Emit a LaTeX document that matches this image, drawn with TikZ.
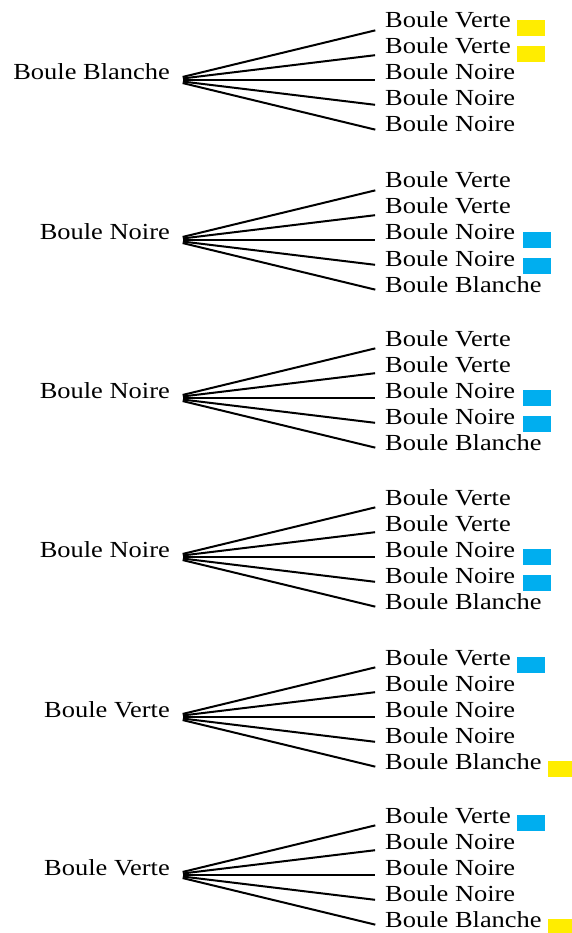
\documentclass[tikz,border=0pt]{standalone}
\usepackage{fontspec}
\setmainfont{Liberation Serif}[FakeStretch=1.15]
\definecolor{markyellow}{RGB}{255,237,0}
\definecolor{markcyan}{RGB}{0,174,239}
\tikzset{
  lbl/.style={inner sep=0pt, font=\fontsize{23}{26}\selectfont},
  rootlbl/.style={lbl, anchor=base east},
  leaflbl/.style={lbl, anchor=base west},
  branch/.style={line width=2pt, shorten <=13pt, shorten >=10pt},
  markbox/.style={minimum width=28pt, minimum height=16pt, inner sep=0pt, anchor=west},
  ymark/.style={markbox, fill=markyellow},
  cmark/.style={markbox, fill=markcyan},
}
\begin{document}
\begin{tikzpicture}[x=1pt,y=-1pt]
\useasboundingbox (0,0) rectangle (572,933);
% ---- group 1
\node[rootlbl] (r1) at (170,80) {Boule Blanche};
\node[leaflbl] (l11) at (385,28) {Boule Verte};
\node[leaflbl] (l12) at (385,54) {Boule Verte};
\node[leaflbl] (l13) at (385,80) {Boule Noire};
\node[leaflbl] (l14) at (385,106) {Boule Noire};
\node[leaflbl] (l15) at (385,132) {Boule Noire};
\node[ymark] (m11) at ([xshift=6pt]l11.base east) {};
\node[ymark] (m12) at ([xshift=6pt]l12.base east) {};
% ---- group 2
\node[rootlbl] (r2) at (170,240) {Boule Noire};
\node[leaflbl] (l21) at (385,188) {Boule Verte};
\node[leaflbl] (l22) at (385,214) {Boule Verte};
\node[leaflbl] (l23) at (385,240) {Boule Noire};
\node[leaflbl] (l24) at (385,266) {Boule Noire};
\node[leaflbl] (l25) at (385,292) {Boule Blanche};
\node[cmark] (m23) at ([xshift=7pt]l23.base east) {};
\node[cmark] (m24) at ([xshift=7pt]l24.base east) {};
% ---- group 3
\node[rootlbl] (r3) at (170,398) {Boule Noire};
\node[leaflbl] (l31) at (385,346) {Boule Verte};
\node[leaflbl] (l32) at (385,372) {Boule Verte};
\node[leaflbl] (l33) at (385,398) {Boule Noire};
\node[leaflbl] (l34) at (385,424) {Boule Noire};
\node[leaflbl] (l35) at (385,450) {Boule Blanche};
\node[cmark] (m33) at ([xshift=7pt]l33.base east) {};
\node[cmark] (m34) at ([xshift=7pt]l34.base east) {};
% ---- group 4
\node[rootlbl] (r4) at (170,557) {Boule Noire};
\node[leaflbl] (l41) at (385,505) {Boule Verte};
\node[leaflbl] (l42) at (385,531) {Boule Verte};
\node[leaflbl] (l43) at (385,557) {Boule Noire};
\node[leaflbl] (l44) at (385,583) {Boule Noire};
\node[leaflbl] (l45) at (385,609) {Boule Blanche};
\node[cmark] (m43) at ([xshift=7pt]l43.base east) {};
\node[cmark] (m44) at ([xshift=7pt]l44.base east) {};
% ---- group 5
\node[rootlbl] (r5) at (170,717) {Boule Verte};
\node[leaflbl] (l51) at (385,665) {Boule Verte};
\node[leaflbl] (l52) at (385,691) {Boule Noire};
\node[leaflbl] (l53) at (385,717) {Boule Noire};
\node[leaflbl] (l54) at (385,743) {Boule Noire};
\node[leaflbl] (l55) at (385,769) {Boule Blanche};
\node[cmark] (m51) at ([xshift=6pt]l51.base east) {};
\node[ymark] (m55) at ([xshift=6pt]l55.base east) {};
% ---- group 6
\node[rootlbl] (r6) at (170,875) {Boule Verte};
\node[leaflbl] (l61) at (385,823) {Boule Verte};
\node[leaflbl] (l62) at (385,849) {Boule Noire};
\node[leaflbl] (l63) at (385,875) {Boule Noire};
\node[leaflbl] (l64) at (385,901) {Boule Noire};
\node[leaflbl] (l65) at (385,927) {Boule Blanche};
\node[cmark] (m61) at ([xshift=6pt]l61.base east) {};
\node[ymark] (m65) at ([xshift=6pt]l65.base east) {};
% ---- branches
\foreach \g in {1,...,6}{
  \foreach \k in {1,...,5}{
    \draw[branch] (r\g.base east) -- (l\g\k.base west);
  }
}
\end{tikzpicture}
\end{document}
